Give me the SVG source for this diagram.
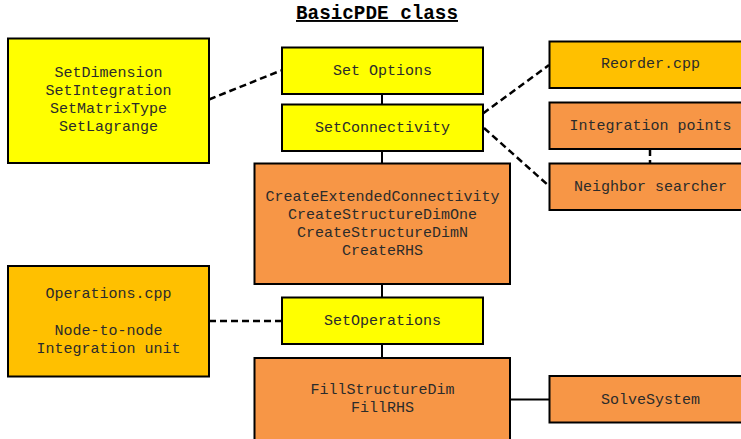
<svg xmlns="http://www.w3.org/2000/svg" width="741" height="439" viewBox="0 0 741 439">
  <style>
    .box { stroke: #000; stroke-width: 2; }
    .yellow { fill: #FFFF00; }
    .orange { fill: #F79646; }
    .gold { fill: #FFC000; }
    .lbl { font-family: "Liberation Mono", "Courier New", monospace; font-size: 15px; fill: #2b2b2b; text-anchor: middle; dominant-baseline: central; }
    .title { font-family: "Liberation Mono", "Courier New", monospace; font-size: 19.3px; font-weight: bold; fill: #000; text-anchor: middle; text-decoration: underline; }
    .solid { stroke: #000; stroke-width: 2; fill: none; }
    .dash { stroke: #000; stroke-width: 2.5; stroke-dasharray: 7 4; fill: none; }
  </style>
  <rect width="741" height="439" fill="#fff"/>

  <text class="title" x="377" y="19">BasicPDE class</text>

  <g id="connectors">
    <line class="solid" x1="382" y1="94" x2="382" y2="104"/>
    <line class="solid" x1="382" y1="151" x2="382" y2="163"/>
    <line class="solid" x1="382" y1="284" x2="382" y2="297"/>
    <line class="solid" x1="382" y1="344" x2="382" y2="358"/>
    <line class="solid" x1="510" y1="399.5" x2="549" y2="399.5"/>
    <line class="dash" x1="209" y1="99.5" x2="281" y2="70.5"/>
    <line class="dash" x1="483" y1="113.5" x2="549" y2="65"/>
    <line class="dash" x1="484" y1="128" x2="549" y2="186"/>
    <line class="dash" x1="209" y1="321" x2="281" y2="321"/>
    <line class="dash" x1="650" y1="149" x2="650" y2="163" stroke-dasharray="5 3"/>
  </g>

  <g id="options-list">
    <rect class="box yellow" x="8" y="38.5" width="201" height="124.5"/>
    <text class="lbl" x="108.5" y="73.5">SetDimension</text>
    <text class="lbl" x="108.5" y="91.5">SetIntegration</text>
    <text class="lbl" x="108.5" y="109.5">SetMatrixType</text>
    <text class="lbl" x="108.5" y="127.5">SetLagrange</text>
  </g>

  <g id="set-options">
    <rect class="box yellow" x="282" y="47.5" width="201" height="46.5"/>
    <text class="lbl" x="382.5" y="71.5">Set Options</text>
  </g>

  <g id="set-connectivity">
    <rect class="box yellow" x="282" y="104.5" width="201" height="46.5"/>
    <text class="lbl" x="382.5" y="128">SetConnectivity</text>
  </g>

  <g id="create-structure">
    <rect class="box orange" x="254.5" y="163.5" width="255.5" height="120.5"/>
    <text class="lbl" x="382.5" y="197">CreateExtendedConnectivity</text>
    <text class="lbl" x="382.5" y="215">CreateStructureDimOne</text>
    <text class="lbl" x="382.5" y="233.5">CreateStructureDimN</text>
    <text class="lbl" x="382.5" y="251.5">CreateRHS</text>
  </g>

  <g id="set-operations">
    <rect class="box yellow" x="282" y="297.5" width="201" height="46.5"/>
    <text class="lbl" x="382.5" y="321.5">SetOperations</text>
  </g>

  <g id="fill-structure">
    <rect class="box orange" x="254.5" y="358" width="255.5" height="90"/>
    <text class="lbl" x="382.5" y="390.5">FillStructureDim</text>
    <text class="lbl" x="382.5" y="408.5">FillRHS</text>
  </g>

  <g id="operations-cpp">
    <rect class="box gold" x="8" y="266" width="201" height="110.5"/>
    <text class="lbl" x="108.5" y="294">Operations.cpp</text>
    <text class="lbl" x="108.5" y="331">Node-to-node</text>
    <text class="lbl" x="108.5" y="349">Integration unit</text>
  </g>

  <g id="reorder-cpp">
    <rect class="box gold" x="549.5" y="41.5" width="202" height="46.5"/>
    <text class="lbl" x="650.5" y="64.5">Reorder.cpp</text>
  </g>

  <g id="integration-points">
    <rect class="box orange" x="549.5" y="102.5" width="202" height="46.5"/>
    <text class="lbl" x="650.5" y="126">Integration points</text>
  </g>

  <g id="neighbor-searcher">
    <rect class="box orange" x="549.5" y="163.5" width="202" height="46.5"/>
    <text class="lbl" x="650.5" y="187">Neighbor searcher</text>
  </g>

  <g id="solve-system">
    <rect class="box orange" x="549.5" y="376" width="202" height="46.5"/>
    <text class="lbl" x="650.5" y="400">SolveSystem</text>
  </g>
</svg>
